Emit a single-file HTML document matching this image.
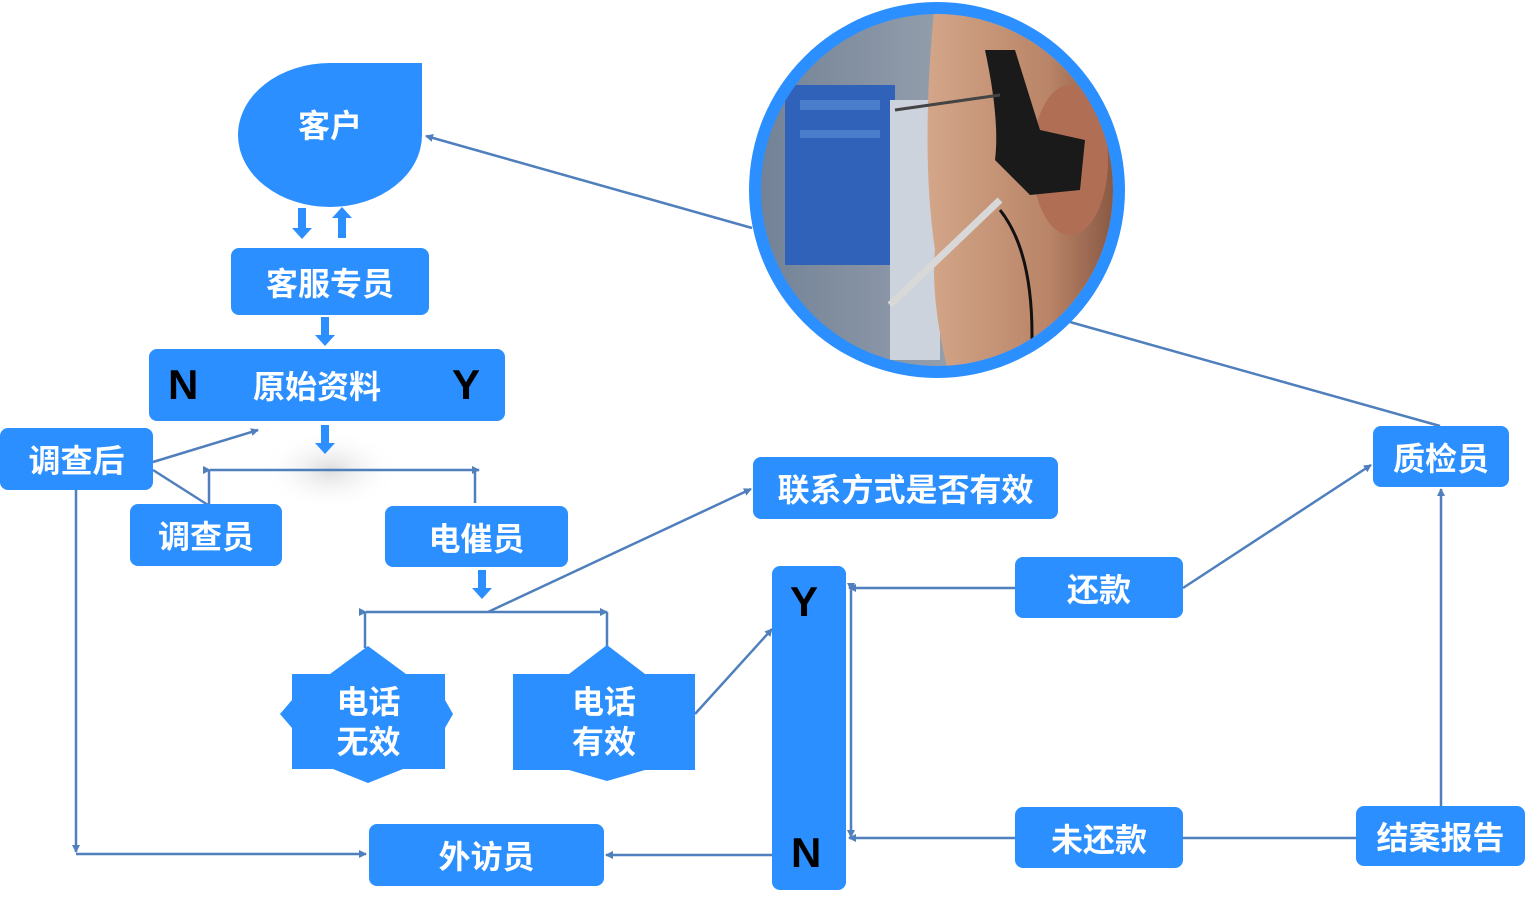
<!DOCTYPE html>
<html><head><meta charset="utf-8"><style>
body{margin:0;width:1527px;height:903px;background:#fff;position:relative;overflow:hidden;font-family:"Liberation Sans","Noto Sans CJK SC",sans-serif}
.b{position:absolute;background:#2b8fff;color:#fff;font-weight:bold;font-size:32px;display:flex;align-items:center;justify-content:center;border-radius:8px}
.t{position:absolute;color:#fff;font-weight:bold;font-size:32px;text-align:center;line-height:40px}
.k{position:absolute;color:#000;font-weight:bold;font-size:42px}
svg{position:absolute;left:0;top:0}
</style></head><body>
<svg width="1527" height="903">
<defs>
<marker id="a" markerWidth="8" markerHeight="8" refX="7" refY="4" orient="auto" markerUnits="userSpaceOnUse"><path d="M0,0 L8,4 L0,8 z" fill="#4f7fbd"/></marker>
<clipPath id="c"><circle cx="937" cy="190" r="176"/></clipPath>
<radialGradient id="sh" cx="0.5" cy="0.5" r="0.5"><stop offset="0" stop-color="#ddd"/><stop offset="1" stop-color="#fff" stop-opacity="0"/></radialGradient>
<linearGradient id="bg" x1="0" x2="1"><stop offset="0" stop-color="#6f7f94"/><stop offset="1" stop-color="#b7bcc4"/></linearGradient>
<linearGradient id="sk" x1="0" x2="1"><stop offset="0" stop-color="#d4a689"/><stop offset="0.6" stop-color="#b98467"/><stop offset="1" stop-color="#7d4e3a"/></linearGradient>
</defs>
<ellipse cx="330" cy="470" rx="70" ry="40" fill="url(#sh)"/>
<g stroke="#4f7fbd" stroke-width="2.5" fill="none">
<line x1="752" y1="228" x2="426" y2="136" marker-end="url(#a)"/>
<line x1="1440" y1="426" x2="1070" y2="322"/>
<line x1="153" y1="462" x2="258" y2="430" marker-end="url(#a)"/>
<line x1="153" y1="470" x2="208" y2="505"/>
<line x1="210" y1="470" x2="479" y2="470" marker-start="url(#a)" marker-end="url(#a)"/>
<line x1="209" y1="470" x2="209" y2="505"/><line x1="475" y1="470" x2="475" y2="503"/>
<line x1="366" y1="612" x2="607" y2="612" marker-start="url(#a)" marker-end="url(#a)"/>
<line x1="365" y1="612" x2="365" y2="648"/><line x1="607" y1="612" x2="607" y2="646"/>
<line x1="488" y1="612" x2="751" y2="489" marker-end="url(#a)"/>
<line x1="695" y1="714" x2="772" y2="629" marker-end="url(#a)"/>
<line x1="1015" y1="588" x2="849" y2="588" marker-end="url(#a)"/>
<line x1="851" y1="590" x2="851" y2="837" marker-start="url(#a)" marker-end="url(#a)"/>
<line x1="1015" y1="838" x2="849" y2="838" marker-end="url(#a)"/>
<line x1="1183" y1="838" x2="1356" y2="838"/>
<line x1="1441" y1="806" x2="1441" y2="489" marker-end="url(#a)"/>
<line x1="1183" y1="588" x2="1371" y2="465" marker-end="url(#a)"/>
<line x1="772" y1="855" x2="606" y2="855" marker-end="url(#a)"/>
<line x1="76" y1="490" x2="76" y2="852" marker-end="url(#a)"/>
<line x1="76" y1="854" x2="366" y2="854" marker-end="url(#a)"/>
</g>
<g fill="#2b8fff">
<path d="M298,208h8v20h6l-10,11l-10,-11h6z"/>
<path d="M338,238h8v-20h6l-10,-11l-10,11h6z"/>
<path d="M321,317h8v18h6l-10,11l-10,-11h6z"/>
<path d="M321,425h8v18h6l-10,11l-10,-11h6z"/>
<path d="M478,570h8v18h6l-10,11l-10,-11h6z"/>
<polygon points="292,674 330,674 368,646 406,674 445,674 445,700 453,714 445,728 445,769 403,769 368,783 333,769 292,769 292,728 280,714 292,700"/>
<polygon points="513,674 569,674 607,645 645,674 695,674 695,770 645,770 607,781 569,770 513,770"/>
<path d="M238,135 A92,72 0 0 1 330,63 L422,63 L422,135 A92,72 0 0 1 238,135z"/>
</g>
<circle cx="937" cy="190" r="188" fill="#2b8fff"/>
<g clip-path="url(#c)">
<rect x="740" y="0" width="400" height="400" fill="url(#bg)"/>
<rect x="785" y="85" width="110" height="180" fill="#2f62b8"/>
<rect x="800" y="100" width="80" height="10" fill="#4a7dcc"/>
<rect x="800" y="130" width="80" height="8" fill="#4a7dcc"/>
<rect x="890" y="100" width="50" height="260" fill="#cdd3dc"/>
<path d="M935,0 L1130,0 L1130,380 L950,380 Q930,300 935,250 Q920,150 935,0z" fill="url(#sk)"/>
<ellipse cx="1070" cy="160" rx="38" ry="75" fill="#b06f55"/>
<path d="M985,50 Q1000,120 995,160 L1030,195 L1080,190 L1085,140 L1040,130 L1015,50z" fill="#1a1a1a"/>
<line x1="890" y1="305" x2="1000" y2="200" stroke="#d8d8d8" stroke-width="7"/>
<path d="M1000,210 Q1040,260 1030,380" stroke="#111" stroke-width="3" fill="none"/>
<line x1="895" y1="110" x2="1000" y2="95" stroke="#444" stroke-width="3"/>
</g>
</svg>
<div class="t" style="left:238px;top:106px;width:184px">客户</div>
<div class="b" style="left:231px;top:248px;width:198px;height:67px">客服专员</div>
<div class="b" style="left:149px;top:349px;width:356px;height:72px"><span style="margin-left:-20px">原始资料</span></div>
<div class="k" style="left:168px;top:361px">N</div><div class="k" style="left:452px;top:361px">Y</div>
<div class="b" style="left:0;top:428px;width:153px;height:62px">调查后</div>
<div class="b" style="left:130px;top:504px;width:152px;height:62px">调查员</div>
<div class="b" style="left:385px;top:506px;width:183px;height:61px">电催员</div>
<div class="t" style="left:292px;top:682px;width:153px">电话<br>无效</div>
<div class="t" style="left:513px;top:682px;width:182px">电话<br>有效</div>
<div class="b" style="left:753px;top:457px;width:305px;height:62px">联系方式是否有效</div>
<div class="b" style="left:772px;top:566px;width:74px;height:324px"></div>
<div class="k" style="left:790px;top:578px">Y</div><div class="k" style="left:791px;top:829px">N</div>
<div class="b" style="left:1015px;top:557px;width:168px;height:61px">还款</div>
<div class="b" style="left:1015px;top:807px;width:168px;height:61px">未还款</div>
<div class="b" style="left:1356px;top:806px;width:169px;height:60px">结案报告</div>
<div class="b" style="left:1373px;top:426px;width:136px;height:61px">质检员</div>
<div class="b" style="left:369px;top:824px;width:235px;height:62px">外访员</div>
</body></html>
